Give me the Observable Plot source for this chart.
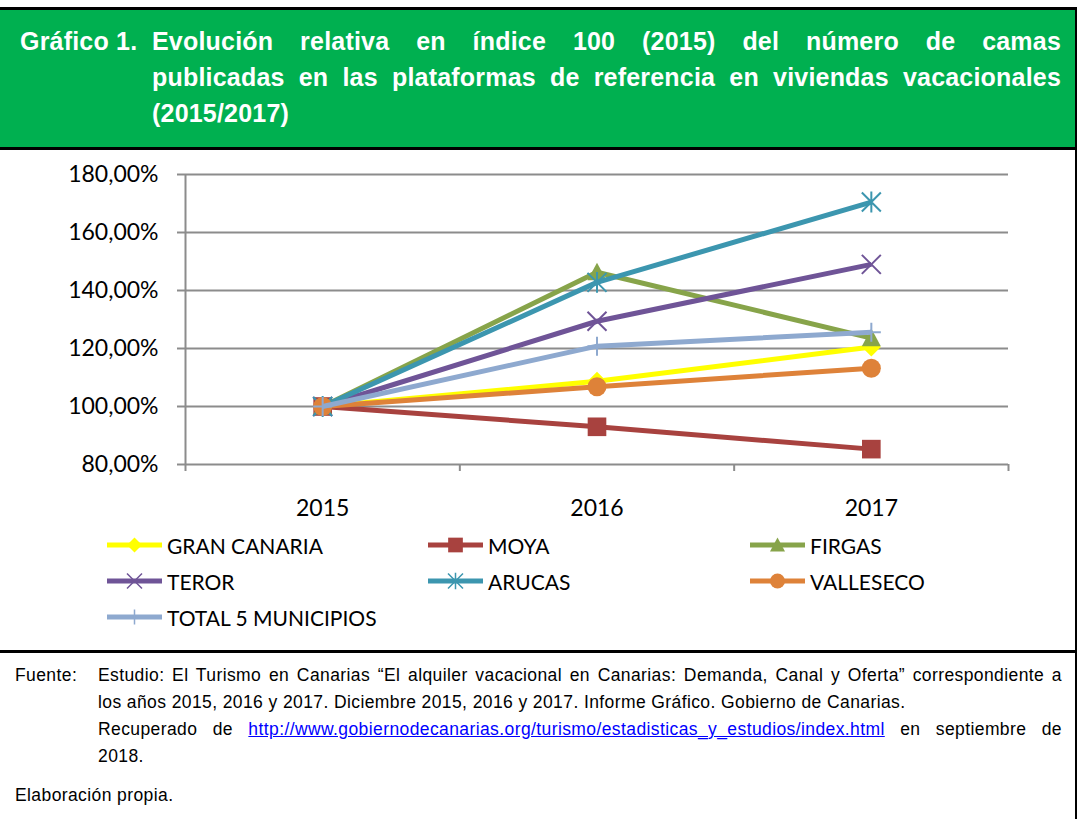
<!DOCTYPE html>
<html><head><meta charset="utf-8">
<script src="https://cdn.jsdelivr.net/npm/d3@7"></script>
<script src="https://cdn.jsdelivr.net/npm/@observablehq/plot@0.6"></script>
<style>
body{margin:0;background:#fff;}
#page{position:relative;width:1077px;height:819px;overflow:hidden;font-family:"Liberation Sans",Arial,sans-serif;background:#fff;}
.abs{position:absolute;}
.tl{position:absolute;left:152px;width:909px;color:#fff;font-weight:bold;font-size:25px;letter-spacing:0.2px;line-height:36px;white-space:nowrap;}
.just{text-align:justify;text-align-last:justify;white-space:normal;}
.fl{position:absolute;left:98px;width:964px;font-size:17.5px;letter-spacing:0.4px;line-height:27px;color:#000;white-space:nowrap;}
.leg{position:absolute;height:24px;display:flex;align-items:center;font-family:Lato,sans-serif;font-size:21px;color:#000;white-space:nowrap;}
.leg svg{margin-right:4px;}
#chart{position:absolute;left:0;top:150px;}
a{color:#0000FF;text-decoration:underline;}
</style></head><body>
<div id="page">
  <div class="abs" style="left:0;top:7px;width:1077px;height:3px;background:#000"></div>
  <div class="abs" style="left:0;top:10px;width:1075px;height:137px;background:#00B050"></div>
  <div class="abs" style="left:0;top:147px;width:1077px;height:3px;background:#000"></div>
  <div class="abs" style="left:1075px;top:7px;width:2px;height:812px;background:#000"></div>
  <div class="abs" style="left:0;top:650px;width:1077px;height:3px;background:#000"></div>

  <div class="tl" style="left:20px;top:23px;width:auto">Gráfico 1.</div>
  <div class="tl just" style="top:23px">Evolución relativa en índice 100 (2015) del número de camas</div>
  <div class="tl just" style="top:59px">publicadas en las plataformas de referencia en viviendas vacacionales</div>
  <div class="tl" style="top:95px">(2015/2017)</div>

  <div id="chart"></div>
  <div id="legend"></div>

  <div class="fl" style="left:15px;top:662px;width:auto">Fuente:</div>
  <div class="fl just" style="top:662px">Estudio: El Turismo en Canarias “El alquiler vacacional en Canarias: Demanda, Canal y Oferta” correspondiente a</div>
  <div class="fl" style="top:689px">los años 2015, 2016 y 2017. Diciembre 2015, 2016 y 2017. Informe Gráfico. Gobierno de Canarias.</div>
  <div class="fl just" style="top:716px">Recuperado de <a href="#">http://www.gobiernodecanarias.org/turismo/estadisticas_y_estudios/index.html</a> en septiembre de</div>
  <div class="fl" style="top:743px">2018.</div>
  <div class="fl" style="left:15px;top:782px">Elaboración propia.</div>
</div>
<script>
// ---- data ----
const years = [2015, 2016, 2017];
const seriesNames = ["GRAN CANARIA", "MOYA", "FIRGAS", "TEROR", "ARUCAS", "VALLESECO", "TOTAL 5 MUNICIPIOS"];
const granCanaria = [100, 108.7, 120.5];
const moya = [100, 93.0, 85.3];
const firgas = [100, 146.3, 123.6];
const teror = [100, 129.4, 149.0];
const arucas = [100, 142.8, 170.5];
const valleseco = [100, 106.8, 113.2];
const total5 = [100, 120.8, 125.6];
const seriesColors = ["#FFFF00", "#A8423F", "#87A44A", "#6F5497", "#3C96AF", "#DE8239", "#8EA9CF"];
const seriesSymbols = ["diamond", "square", "triangle", "times", "asterisk", "circle", "plus"];
const yTicks = [80, 100, 120, 140, 160, 180];
const xTickLabels = ["2015", "2016", "2017"];

const seriesValues = [granCanaria, moya, firgas, teror, arucas, valleseco, total5];

// ---- symbols ----
const R = s => Math.sqrt(s / Math.PI);
const symbols = {
  diamond: {draw(c, s) { const r = R(s); c.moveTo(0, -r); c.lineTo(r, 0); c.lineTo(0, r); c.lineTo(-r, 0); c.closePath(); }},
  square: {draw(c, s) { const r = R(s) * 0.98; c.rect(-r, -r, 2 * r, 2 * r); }},
  triangle: {draw(c, s) { const r = R(s); c.moveTo(0, -r); c.lineTo(r, 0.85 * r); c.lineTo(-r, 0.85 * r); c.closePath(); }},
  circle: {draw(c, s) { const r = R(s); c.moveTo(r, 0); c.arc(0, 0, r, 0, 2 * Math.PI); }},
  times: {draw(c, s) { const r = R(s); c.moveTo(-r, -r); c.lineTo(r, r); c.moveTo(r, -r); c.lineTo(-r, r); }},
  asterisk: {draw(c, s) { const r = R(s); c.moveTo(-r, -r); c.lineTo(r, r); c.moveTo(r, -r); c.lineTo(-r, r); c.moveTo(0, -r * 1.1); c.lineTo(0, r * 1.1); }},
  plus: {draw(c, s) { const r = R(s); c.moveTo(0, -r); c.lineTo(0, r); c.moveTo(-r, 0); c.lineTo(r, 0); }}
};
const strokeSym = new Set(["times", "asterisk", "plus"]);

// ---- chart ----
const x0 = years[0] - 0.5, x1 = years[years.length - 1] + 0.5;
const bounds = d3.range(x0, x1 + 0.01, 1);
const fmtY = d => d.toFixed(2).replace(".", ",") + "%";
const gray = "#8c8c8c";

const seriesMarks = seriesNames.flatMap((name, k) => {
  const rows = years.map((yr, i) => ({year: yr, value: seriesValues[k][i], name}));
  const symName = seriesSymbols[k];
  const isStroke = strokeSym.has(symName);
  return [
    Plot.line(rows, {x: "year", y: "value", stroke: seriesColors[k], strokeWidth: 5, strokeLinejoin: "round", strokeLinecap: "butt"}),
    Plot.dot(rows, {x: "year", y: "value", symbol: symbols[symName], r: 9.5,
      fill: isStroke ? "none" : seriesColors[k], stroke: isStroke ? seriesColors[k] : "none", strokeWidth: isStroke ? 2 : 0})
  ];
});

const chart = Plot.plot({
  width: 1077, height: 370,
  marginLeft: 185, marginRight: 69, marginTop: 24, marginBottom: 56,
  x: {domain: [x0, x1]},
  y: {domain: [80, 180]},
  style: {fontFamily: "Lato, sans-serif", fontSize: "23px", color: "#000", background: "transparent", overflow: "visible"},
  marks: [
    Plot.gridY(yTicks, {stroke: gray, strokeOpacity: 1, strokeWidth: 2}),
    Plot.ruleX([x0], {stroke: gray, strokeWidth: 2}),
    Plot.axisY(yTicks, {tickSize: 8, tickPadding: 19, tickFormat: fmtY, stroke: gray, strokeWidth: 2, fill: "#000", label: null}),
    Plot.axisX(bounds, {tickSize: 7, tickFormat: () => "", stroke: gray, strokeWidth: 2, label: null}),
    Plot.axisX(years, {tickSize: 0, tickPadding: 35, tickFormat: (d, i) => xTickLabels[i], fill: "#000", label: null}),
    ...seriesMarks
  ]
});
document.getElementById("chart").appendChild(chart);

// ---- legend ----
const legend = document.getElementById("legend");
const colX = [106, 427, 749];
const rowY = [545, 581, 617];
seriesNames.forEach((name, k) => {
  const col = k % 3, row = Math.floor(k / 3);
  const div = document.createElement("div");
  div.className = "leg";
  div.style.left = colX[col] + "px";
  div.style.top = (rowY[row] - 12) + "px";
  const symName = seriesSymbols[k];
  const isStroke = strokeSym.has(symName);
  const path = d3.symbol(symbols[symName], Math.PI * 7.5 * 7.5)();
  div.innerHTML = `<svg width="57" height="24" viewBox="0 0 57 24">
    <line x1="1" x2="56" y1="12" y2="12" stroke="${seriesColors[k]}" stroke-width="5"/>
    <path transform="translate(28.5,12)" d="${path}" fill="${isStroke ? "none" : seriesColors[k]}" stroke="${isStroke ? seriesColors[k] : "none"}" stroke-width="1.5"/>
  </svg><span>${name}</span>`;
  legend.appendChild(div);
});
</script>
</body></html>
